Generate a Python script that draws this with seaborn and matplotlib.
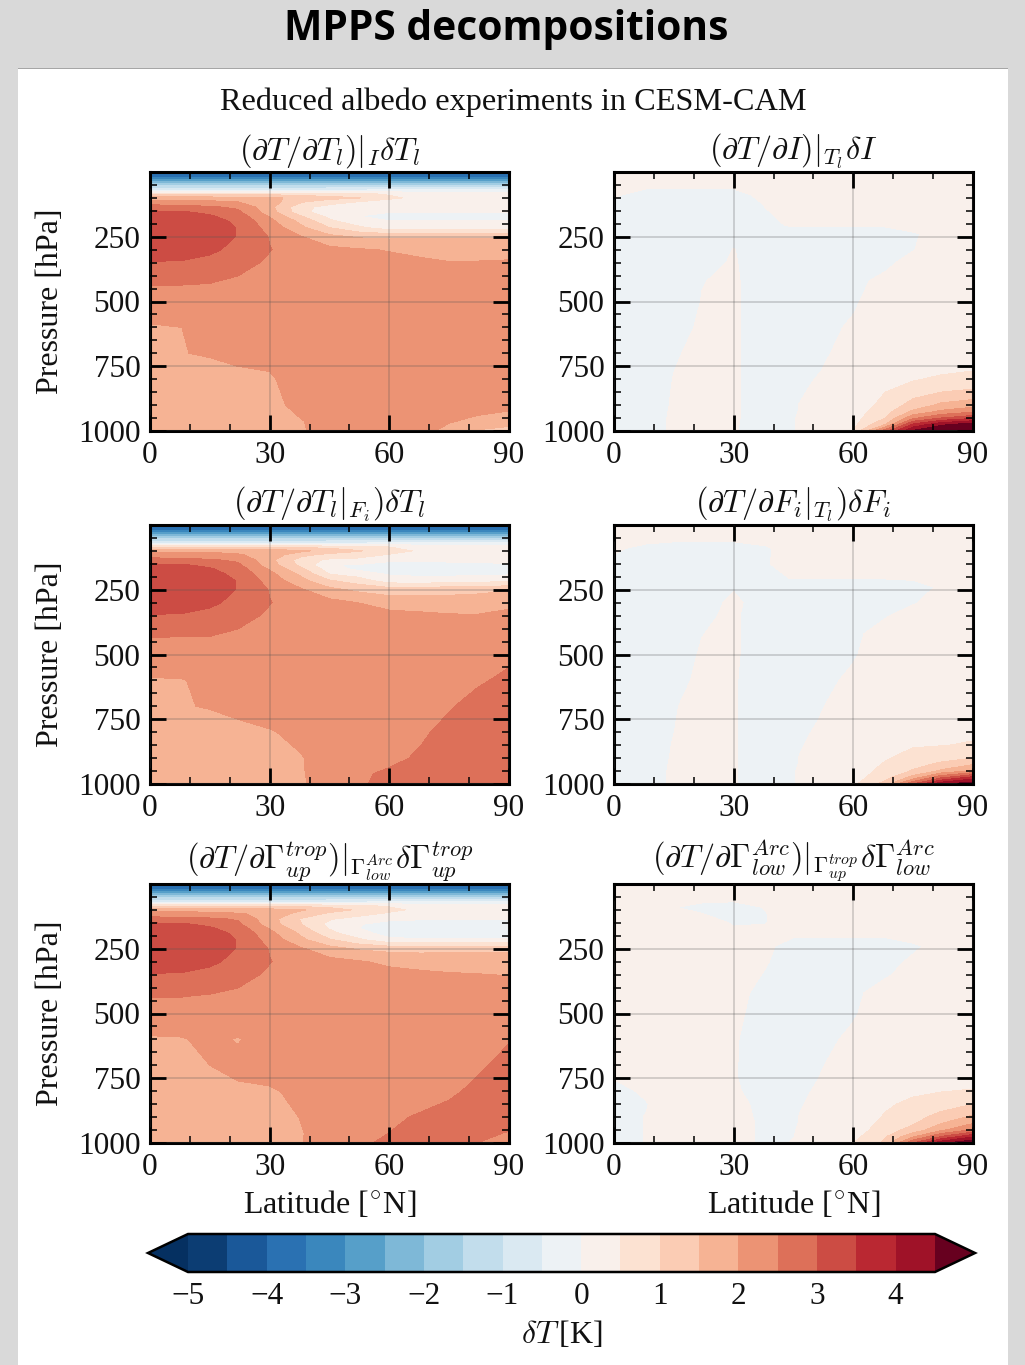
import numpy as np
import matplotlib
matplotlib.use("Agg")
import matplotlib.pyplot as plt
import seaborn as sns
from matplotlib.colors import Normalize
from matplotlib.patches import Rectangle
from matplotlib.ticker import MultipleLocator

# latitude columns shared by all panels
lat = [0, 8, 15, 22, 30, 38, 45, 52, 60, 68, 75, 82, 90]

# pressure rows, left column and right column of panels
plev_left = [0, 15, 30, 50, 70, 85, 100, 115, 135, 155, 170, 190, 215, 250, 300, 350, 430, 500, 600, 700, 800, 900, 960, 1000]
plev_right = [0, 40, 90, 120, 150, 205, 240, 300, 350, 420, 500, 600, 700, 750, 800, 850, 900, 925, 950, 975, 1000]

levels = [-5, -4.5, -4, -3.5, -3, -2.5, -2, -1.5, -1, -0.5, 0, 0.5, 1, 1.5, 2, 2.5, 3, 3.5, 4, 4.5]
cbar_ticks = [-5, -4, -3, -2, -1, 0, 1, 2, 3, 4]

dT_tl_i = [
    [-4.3] * 13,
    [-3.7] * 13,
    [-2.9] * 13,
    [-1.7] * 13,
    [-.6, -.6, -.6, -.6, -.6, -.6, -.5, -.5, -.4, -.3, -.3, -.3, -.3],
    [.85, .85, .85, .85, .85, .8, .7, .6, .45, .3, .25, .25, .2],
    [1.7, 1.7, 1.7, 1.65, 1.6, 1.35, 1.15, 1.05, .6, .35, .3, .25, .25],
    [2.2, 2.2, 2.1, 2.0, 1.75, 1.05, .75, .5, .3, .2, .2, .2, .2],
    [2.7, 2.65, 2.55, 2.42, 1.65, .65, .3, .2, .15, .1, .1, .1, .1],
    [3.1, 3.05, 2.9, 2.6, 1.75, .65, .2, .1, .05, .03, .03, .03, .03],
    [3.25, 3.2, 3.05, 2.75, 1.95, 1.0, .35, .02, -.55, -.6, -.6, -.55, -.5],
    [3.35, 3.3, 3.2, 2.9, 2.15, 1.35, .6, .25, .05, .03, .03, .03, .03],
    [3.4, 3.35, 3.3, 2.97, 2.3, 1.6, 1.0, .6, .25, .2, .2, .2, .25],
    [3.45, 3.42, 3.3, 2.97, 2.47, 2.02, 1.65, 1.45, 1.4, 1.45, 1.45, 1.45, 1.45],
    [3.3, 3.25, 3.1, 2.85, 2.52, 2.25, 2.12, 2.05, 1.97, 1.85, 1.78, 1.78, 1.82],
    [2.97, 2.95, 2.85, 2.68, 2.42, 2.3, 2.25, 2.2, 2.15, 2.1, 2.02, 2.03, 2.05],
    [2.52, 2.52, 2.5, 2.4, 2.3, 2.25, 2.2, 2.2, 2.2, 2.2, 2.2, 2.2, 2.2],
    [2.3] * 13,
    [1.95, 2.0, 2.1, 2.2, 2.2, 2.2, 2.2, 2.2, 2.2, 2.2, 2.2, 2.2, 2.2],
    [1.85, 1.99, 2.03, 2.1, 2.12, 2.2, 2.2, 2.2, 2.2, 2.2, 2.2, 2.2, 2.2],
    [1.8, 1.82, 1.85, 1.9, 1.95, 2.2, 2.2, 2.2, 2.2, 2.2, 2.2, 2.2, 2.2],
    [1.75, 1.75, 1.75, 1.78, 1.8, 2.2, 2.2, 2.2, 2.2, 2.2, 2.2, 2.2, 2.15],
    [1.7, 1.7, 1.7, 1.72, 1.75, 1.98, 2.2, 2.2, 2.2, 2.2, 2.05, 1.9, 1.75],
    [1.7, 1.7, 1.7, 1.7, 1.72, 1.95, 2.2, 2.2, 2.2, 2.15, 1.85, 1.45, 1.3],
]

dT_tl_f = [
    [-4.3] * 13,
    [-3.7] * 13,
    [-2.9] * 13,
    [-1.7] * 13,
    [-.6, -.6, -.6, -.6, -.6, -.6, -.5, -.5, -.4, -.3, -.3, -.3, -.3],
    [.9, .9, .9, .9, .9, .9, .85, .7, .5, .3, .25, .25, .2],
    [1.9, 1.9, 1.9, 1.85, 1.8, 1.6, 1.3, 1.05, .75, .4, .3, .3, .25],
    [2.2, 2.2, 2.15, 2.05, 1.8, 1.15, .85, .75, .45, .3, .25, .25, .2],
    [2.7, 2.65, 2.55, 2.42, 1.65, .75, .4, .35, .15, .1, .1, .1, .1],
    [3.1, 3.05, 2.9, 2.6, 1.75, .85, .03, -.05, -.3, -.2, -.15, -.1, -.05],
    [3.25, 3.2, 3.05, 2.75, 1.95, 1.1, .25, -.1, -.55, -.55, -.4, -.15, -.1],
    [3.35, 3.3, 3.2, 2.85, 2.15, 1.4, .5, .3, -.05, -.1, -.1, -.1, -.05],
    [3.4, 3.35, 3.3, 2.97, 2.3, 1.65, 1.05, .75, .25, .2, .25, .3, .4],
    [3.45, 3.42, 3.3, 2.97, 2.47, 2.05, 1.65, 1.4, 1.25, 1.3, 1.35, 1.4, 1.45],
    [3.3, 3.25, 3.1, 2.85, 2.52, 2.25, 2.15, 2.0, 1.8, 1.75, 1.7, 1.7, 1.9],
    [2.97, 2.95, 2.85, 2.68, 2.42, 2.3, 2.25, 2.2, 2.15, 2.1, 2.05, 2.03, 2.1],
    [2.52, 2.5, 2.5, 2.4, 2.3, 2.25, 2.2, 2.2, 2.2, 2.2, 2.2, 2.2, 2.25],
    [2.3, 2.3, 2.3, 2.3, 2.3, 2.3, 2.3, 2.3, 2.3, 2.3, 2.3, 2.35, 2.42],
    [1.96, 1.98, 2.1, 2.2, 2.2, 2.2, 2.2, 2.25, 2.25, 2.3, 2.35, 2.45, 2.58],
    [1.85, 1.98, 2.02, 2.1, 2.2, 2.2, 2.2, 2.25, 2.3, 2.38, 2.47, 2.62, 2.75],
    [1.8, 1.82, 1.85, 1.9, 1.97, 2.1, 2.2, 2.25, 2.35, 2.45, 2.6, 2.7, 2.85],
    [1.75, 1.75, 1.75, 1.78, 1.82, 1.98, 2.2, 2.3, 2.42, 2.55, 2.65, 2.75, 2.85],
    [1.7, 1.7, 1.7, 1.72, 1.75, 1.97, 2.2, 2.45, 2.55, 2.6, 2.7, 2.75, 2.8],
    [1.7, 1.7, 1.7, 1.7, 1.72, 1.95, 2.2, 2.45, 2.6, 2.65, 2.7, 2.75, 2.75],
]

dT_gamma_up = [
    [-4.3] * 13,
    [-3.7] * 13,
    [-2.9] * 13,
    [-1.7] * 13,
    [-.6, -.6, -.6, -.6, -.6, -.6, -.5, -.5, -.4, -.3, -.3, -.3, -.3],
    [.9, .9, .9, .9, .9, .9, .85, .6, .45, .3, .25, .2, .2],
    [1.8, 1.8, 1.8, 1.75, 1.7, 1.55, 1.2, .95, .65, .35, .3, .25, .25],
    [2.2, 2.2, 2.15, 2.05, 1.85, 1.3, .9, .7, .4, .25, .2, .2, .2],
    [2.7, 2.65, 2.58, 2.45, 1.7, .95, .55, .3, .1, .05, .05, .05, .05],
    [3.1, 3.05, 2.9, 2.6, 1.75, 1.0, .35, .05, -.2, -.25, -.25, -.2, -.2],
    [3.25, 3.2, 3.05, 2.75, 1.95, 1.15, .45, .03, -.55, -.55, -.55, -.45, -.3],
    [3.35, 3.3, 3.2, 2.9, 2.15, 1.4, .65, .2, -.2, -.25, -.25, -.2, -.15],
    [3.4, 3.35, 3.3, 2.97, 2.3, 1.6, 1.05, .6, .1, .05, .05, .05, .05],
    [3.45, 3.42, 3.3, 2.97, 2.47, 2.05, 1.7, 1.45, 1.35, 1.35, 1.4, 1.4, 1.4],
    [3.3, 3.25, 3.1, 2.85, 2.52, 2.25, 2.15, 2.05, 1.9, 1.8, 1.75, 1.72, 1.75],
    [2.97, 2.95, 2.85, 2.68, 2.42, 2.3, 2.25, 2.2, 2.15, 2.1, 2.05, 2.02, 1.98],
    [2.52, 2.52, 2.48, 2.4, 2.3, 2.25, 2.2, 2.2, 2.2, 2.2, 2.2, 2.2, 2.2],
    [2.3] * 13,
    [1.95, 1.97, 2.1, 1.97, 2.2, 2.2, 2.2, 2.2, 2.2, 2.2, 2.25, 2.32, 2.47],
    [1.85, 1.92, 2.0, 2.12, 2.2, 2.2, 2.2, 2.2, 2.2, 2.25, 2.3, 2.42, 2.65],
    [1.8, 1.85, 1.88, 1.92, 1.95, 2.1, 2.2, 2.22, 2.25, 2.3, 2.42, 2.6, 2.7],
    [1.75, 1.75, 1.75, 1.78, 1.8, 2.02, 2.2, 2.3, 2.42, 2.55, 2.65, 2.7, 2.7],
    [1.7, 1.7, 1.7, 1.72, 1.75, 1.98, 2.2, 2.4, 2.5, 2.6, 2.65, 2.6, 2.48],
    [1.7, 1.7, 1.7, 1.7, 1.72, 1.98, 2.25, 2.45, 2.55, 2.6, 2.6, 2.5, 2.3],
]

dT_i = [
    [.2] * 13,
    [.2] * 13,
    [.05, -.2, -.2, -.2, -.2, .15, .2, .2, .2, .2, .2, .2, .2],
    [-.1, -.2, -.2, -.2, -.2, .03, .2, .2, .2, .2, .2, .2, .2],
    [-.1, -.2, -.2, -.2, -.2, -.02, .15, .2, .2, .2, .2, .2, .2],
    [-.1, -.2, -.2, -.2, -.2, -.1, .05, .05, .05, .05, .1, .2, .2],
    [-.1, -.2, -.2, -.2, -.1, -.2, -.2, -.2, -.2, -.2, -.03, .1, .2],
    [-.1, -.2, -.2, -.2, .01, -.2, -.2, -.2, -.2, -.1, -.01, .15, .2],
    [-.1, -.2, -.2, -.1, .03, -.2, -.2, -.2, -.15, -.05, .08, .2, .2],
    [-.1, -.2, -.2, -.01, .05, -.2, -.2, -.2, -.05, .05, .1, .2, .2],
    [-.1, -.2, -.2, .01, .05, -.2, -.2, -.1, -.03, .12, .2, .2, .2],
    [-.1, -.2, -.1, .04, .05, -.2, -.15, -.06, .03, .15, .2, .2, .2],
    [-.1, -.2, -.04, .1, .05, -.2, -.1, -.04, .1, .2, .2, .25, .25],
    [-.1, -.2, -.01, .1, .05, -.2, -.1, -.01, .15, .2, .25, .3, .4],
    [-.1, -.2, .01, .1, .05, -.2, -.06, .02, .15, .3, .45, .6, .68],
    [-.1, -.15, .02, .1, .05, -.2, -.04, .05, .15, .5, .8, 1.0, 1.1],
    [-.1, -.15, .03, .1, .05, -.2, -.02, .1, .2, .65, 1.2, 1.6, 1.8],
    [-.1, -.15, .04, .1, .05, -.2, -.02, .1, .25, .8, 1.6, 2.1, 2.4],
    [-.1, -.15, .05, .1, .05, -.2, -.01, .12, .3, 1.0, 2.4, 3.0, 3.4],
    [-.1, -.15, .05, .1, .04, -.2, -.01, .15, .35, 1.5, 3.6, 4.4, 4.8],
    [-.1, -.15, .06, .1, .03, -.2, -.01, .15, .5, 2.8, 4.6, 5.0, 5.2],
]

dT_fi = [
    [.2] * 13,
    [.2] * 13,
    [.06, -.1, -.2, -.2, -.2, -.05, .2, .2, .2, .2, .2, .2, .2],
    [-.02, -.2, -.2, -.2, -.2, -.05, .2, .2, .2, .2, .2, .2, .2],
    [-.1, -.2, -.2, -.2, -.2, -.03, .15, .2, .2, .2, .2, .2, .2],
    [-.1, -.2, -.2, -.2, -.2, -.1, .02, .02, .02, .02, .05, .2, .2],
    [-.1, -.2, -.2, -.2, -.02, -.1, -.2, -.2, -.2, -.2, -.15, .05, .2],
    [-.1, -.2, -.2, -.1, .05, -.12, -.2, -.2, -.2, -.15, -.02, .1, .2],
    [-.1, -.2, -.2, -.05, .05, -.2, -.2, -.2, -.15, -.02, .1, .2, .2],
    [-.1, -.2, -.2, -.005, .05, -.2, -.2, -.2, -.05, .1, .2, .2, .2],
    [-.1, -.2, -.1, .02, .05, -.2, -.2, -.1, -.02, .12, .2, .2, .2],
    [-.1, -.2, -.06, .04, .03, -.2, -.15, -.05, .04, .15, .2, .2, .2],
    [-.1, -.2, -.02, .1, .03, -.2, -.1, -.01, .1, .2, .2, .2, .2],
    [-.1, -.2, -.01, .1, .03, -.2, -.1, .01, .12, .15, .2, .2, .25],
    [-.1, -.2, -.002, .1, .03, -.2, -.05, .03, .15, .2, .3, .35, .4],
    [-.1, -.2, .02, .1, .03, -.2, -.03, .05, .15, .3, .45, .48, .55],
    [-.1, -.15, .03, .1, .03, -.2, -.02, .1, .2, .45, .7, .85, 1.0],
    [-.1, -.15, .04, .1, .03, -.2, -.02, .1, .2, .55, .85, 1.1, 1.5],
    [-.1, -.15, .05, .1, .03, -.2, -.01, .12, .25, .65, 1.05, 1.6, 2.1],
    [-.1, -.15, .05, .1, .03, -.2, -.01, .15, .3, .8, 1.7, 2.9, 3.7],
    [-.1, -.15, .06, .1, .03, -.2, -.01, .15, .4, 1.2, 3.0, 4.4, 5.0],
]

dT_gamma_low = [
    [.2] * 13,
    [.2] * 13,
    [.2, .15, .01, -.1, -.15, .02, .2, .2, .2, .2, .2, .2, .2],
    [.2, .2, .15, .03, -.15, -.02, .2, .2, .2, .2, .2, .2, .2],
    [.2, .2, .2, .15, -.03, -.01, .2, .2, .2, .2, .2, .2, .2],
    [.2, .2, .2, .2, .1, .1, .01, .01, .01, .01, .1, .2, .2],
    [.2, .2, .2, .2, .15, .1, -.2, -.2, -.2, -.2, -.05, .1, .2],
    [.2, .2, .2, .2, .15, .03, -.2, -.2, -.2, -.1, .05, .15, .2],
    [.2, .2, .2, .2, .2, -.03, -.2, -.2, -.15, -.03, .1, .2, .2],
    [.2, .2, .2, .2, .1, -.1, -.2, -.2, -.05, .1, .2, .2, .2],
    [.2, .2, .2, .2, .08, -.15, -.2, -.1, -.02, .12, .2, .2, .2],
    [.2, .2, .2, .2, .04, -.2, -.15, -.05, .04, .15, .2, .2, .2],
    [.2, .2, .2, .2, .03, -.2, -.1, -.01, .1, .2, .2, .2, .2],
    [.01, .2, .2, .2, .03, -.2, -.1, .01, .12, .2, .2, .2, .25],
    [-.1, .05, .2, .2, .05, -.15, -.05, .03, .1, .3, .4, .48, .55],
    [-.1, -.02, .2, .2, .1, -.1, -.03, .05, .12, .42, .62, .8, 1.0],
    [-.1, .01, .15, .2, .15, -.1, -.02, .1, .15, .55, .85, 1.15, 1.6],
    [-.1, .01, .2, .2, .2, -.1, -.02, .1, .2, .65, .95, 1.5, 2.0],
    [-.1, .01, .2, .2, .2, -.1, -.01, .12, .25, .75, 1.2, 1.9, 2.6],
    [-.1, .01, .2, .2, .2, -.1, -.005, .15, .35, .95, 1.9, 3.0, 3.9],
    [-.1, .01, .2, .2, .2, -.1, .02, .15, .5, 1.1, 3.0, 4.4, 5.1],
]

panel_titles = [
    r'$(\partial T/\partial T_l)|_{I}\delta T_l$',
    r'$(\partial T/\partial I)|_{T_l}\delta I$',
    r'$(\partial T/\partial T_l|_{F_i})\delta T_l$',
    r'$(\partial T/\partial F_i|_{T_l})\delta F_i$',
    r'$(\partial T/\partial \Gamma^{trop}_{up})|_{\Gamma^{Arc}_{low}}\delta\Gamma^{trop}_{up}$',
    r'$(\partial T/\partial \Gamma^{Arc}_{low})|_{\Gamma^{trop}_{up}}\delta\Gamma^{Arc}_{low}$',
]

W, H = 1025, 1365

sns.set_theme(style="ticks")
plt.rcParams['font.family'] = ['Liberation Serif', 'DejaVu Serif']
plt.rcParams['mathtext.fontset'] = 'cm'
plt.rcParams['axes.unicode_minus'] = True
cmap = sns.color_palette("RdBu_r", as_cmap=True)
norm = Normalize(-5, 5)


def px_axes(fig, x0, y0, x1, y1):
    # axes from pixel box, y counted from the top
    return fig.add_axes([x0 / W, 1 - y1 / H, (x1 - x0) / W, (y1 - y0) / H])


def draw_panel(ax, plev, field, title, left, bottom):
    cf = ax.contourf(lat, plev, np.array(field), levels=levels, cmap=cmap, norm=norm, extend='both')
    ax.set_xlim(0, 90)
    ax.set_ylim(1000, 0)
    ax.set_xticks([0, 30, 60, 90])
    ax.set_yticks([250, 500, 750, 1000])
    ax.xaxis.set_minor_locator(MultipleLocator(10))
    ax.yaxis.set_minor_locator(MultipleLocator(50))
    ax.tick_params(which='major', direction='in', top=True, right=True, length=11.5, width=2.0,
                   labelsize=22.5, color='black', labelcolor='#111111', pad=7)
    ax.tick_params(which='minor', direction='in', top=True, right=True, length=5, width=1.1, color='black')
    ax.grid(True, which='major', color='#555555', alpha=0.3, lw=1.1)
    ax.set_axisbelow(False)
    for sp in ax.spines.values():
        sp.set_linewidth(2.2)
        sp.set_color('black')
    ax.set_title(title, fontsize=23.2, pad=9, color='#111111')
    if left:
        ax.set_ylabel('Pressure [hPa]', fontsize=23, labelpad=9, color='#111111')
    if bottom:
        ax.set_xlabel(r'Latitude [$^{\circ}$N]', fontsize=23, labelpad=5, color='#111111')
    return cf


fig = plt.figure(figsize=(W / 100, H / 100), dpi=100, facecolor='#d9d9d9')
fig.patches.append(Rectangle((18 / W, 0), 990 / W, 1 - 68 / H, transform=fig.transFigure,
                             facecolor='white', edgecolor='none', zorder=-5))
fig.patches.append(Rectangle((18 / W, 1 - 69 / H), 990 / W, 1.5 / H, transform=fig.transFigure,
                             facecolor='#a6a6a6', edgecolor='none', zorder=-4))

fig.text(506 / W, 1 - 30 / H, 'MPPS decompositions', family='Open Sans', weight='bold', fontsize=29.3,
         ha='center', va='center', color='black')
fig.text(513 / W, 1 - 102 / H, 'Reduced albedo experiments in CESM-CAM', fontsize=23.2,
         ha='center', va='center', color='#111111')

rows = [(172, 431), (525, 784), (884, 1143)]
cols = [(150, 509), (614, 973)]
fields = [dT_tl_i, dT_i, dT_tl_f, dT_fi, dT_gamma_up, dT_gamma_low]

k = 0
for r, (y0, y1) in enumerate(rows):
    for c, (x0, x1) in enumerate(cols):
        ax = px_axes(fig, x0, y0, x1, y1)
        plev = plev_left if c == 0 else plev_right
        cf = draw_panel(ax, plev, fields[k], panel_titles[k], c == 0, r == 2)
        k += 1

# the colorbar axes box takes the two pointed ends as well
cax = px_axes(fig, 148, 1234, 975, 1272)
cb = fig.colorbar(cf, cax=cax, orientation='horizontal', ticks=cbar_ticks, extendfrac=40 / 747, drawedges=False)
cb.ax.tick_params(which='major', direction='in', length=5.5, width=1.3, labelsize=22.5, pad=7, color='black', labelcolor='#111111')
cb.ax.minorticks_off()
cb.outline.set_linewidth(1.8)
cb.outline.set_edgecolor('black')
cb.set_label(r'$\delta T\,$[K]', fontsize=23, labelpad=6, color='#111111')

fig.savefig('out.png', dpi=100, facecolor=fig.get_facecolor())
